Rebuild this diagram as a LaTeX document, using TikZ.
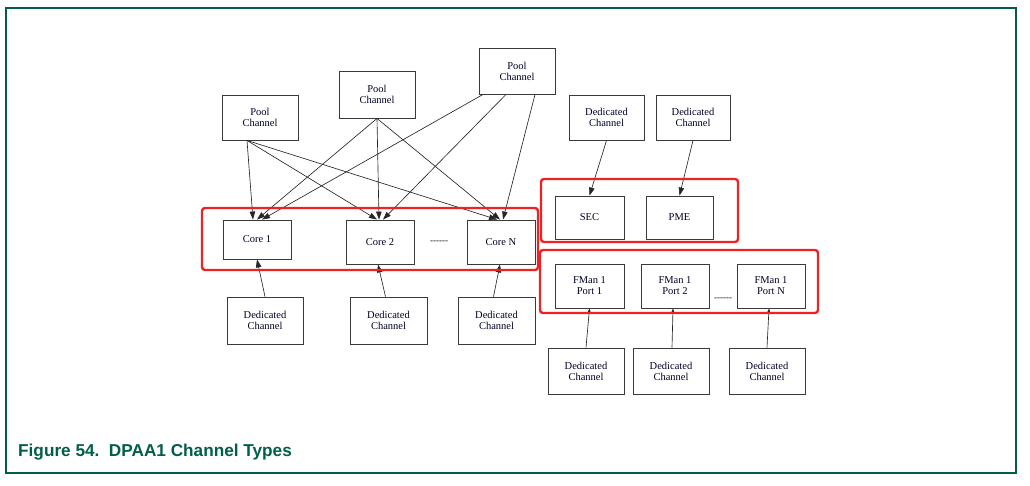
\documentclass[tikz,border=0pt]{standalone}
\usepackage{fontspec}
\setmainfont{Liberation Serif}
\newfontfamily\capfont{Liberation Sans}
\usetikzlibrary{arrows.meta,calc}
\definecolor{nxpgreen}{HTML}{005E4A}
\definecolor{hlred}{HTML}{EE2222}
\definecolor{boxgray}{HTML}{3A3A3A}
\newcommand{\hdash}{{-}{-}{-}{-}{-}{-}}
\begin{document}
\begin{tikzpicture}[x=1pt,y=-1pt,
  blk/.style={draw=boxgray,line width=0.9pt,minimum width=#1,inner sep=0pt,
    font=\fontsize{10.5}{11}\selectfont,align=center,text=black!85!blue},
  blk/.default=76pt,
  arr/.style={draw=black!85,line width=0.65pt,-{Triangle[length=8pt,width=5.5pt]}},
  sarr/.style={draw=black!85,line width=0.65pt,-{Triangle[length=4pt,width=3pt]}},
  hl/.style={draw=hlred,line width=2.4pt,rounded corners=3pt},
  dots/.style={font=\fontsize{9}{9}\selectfont,inner sep=0pt}]
\useasboundingbox (0,0) rectangle (1030,485);
\draw[nxpgreen,line width=2pt] (6,8) rectangle (1016,473);
\node[anchor=base west,inner sep=0pt,text=nxpgreen,font=\capfont\bfseries\fontsize{17.2}{19}\selectfont] (cap) at (18,456) {Figure 54.\ \ DPAA1 Channel Types};
% pool channels
\node[blk,minimum height=45pt] (pool1) at (260,117.5) {Pool\\Channel};
\node[blk,minimum height=47pt] (pool2) at (377,94.5) {Pool\\Channel};
\node[blk,minimum height=46pt] (pool3) at (517,71) {Pool\\Channel};
% cores
\node[blk=68pt,minimum height=39pt] (core1) at (257,239.5) {Core 1};
\node[blk=68pt,minimum height=44pt] (core2) at (380,242) {Core 2};
\node[blk=68pt,minimum height=44pt] (coreN) at (501,242) {Core N};
\node[dots] (cdots) at (439,242) {\hdash};
% dedicated below cores
\node[blk,minimum height=47pt] (dc1) at (265,320.5) {Dedicated\\Channel};
\node[blk=77pt,minimum height=47pt] (dc2) at (388.5,320.5) {Dedicated\\Channel};
\node[blk=77pt,minimum height=47pt] (dc3) at (496.5,320.5) {Dedicated\\Channel};
% SEC / PME
\node[blk=75pt,minimum height=45pt] (dsec) at (606.5,117.5) {Dedicated\\Channel};
\node[blk=74pt,minimum height=45pt] (dpme) at (693,117.5) {Dedicated\\Channel};
\node[blk=69pt,minimum height=43pt] (sec) at (589.5,217.5) {SEC};
\node[blk=67pt,minimum height=43pt] (pme) at (679.5,217.5) {PME};
% FMan ports
\node[blk=69pt,minimum height=44pt] (fp1) at (589.5,286) {FMan 1\\Port 1};
\node[blk=68pt,minimum height=44pt] (fp2) at (675,286) {FMan 1\\Port 2};
\node[blk=68pt,minimum height=44pt] (fpN) at (771,286) {FMan 1\\Port N};
\node[dots] (fdots) at (723,299) {\hdash};
\node[blk,minimum height=46pt] (df1) at (586,371) {Dedicated\\Channel};
\node[blk,minimum height=46pt] (df2) at (671,371) {Dedicated\\Channel};
\node[blk,minimum height=46pt] (df3) at (767,371) {Dedicated\\Channel};
% pool arrows
\draw[arr] ([xshift=-13pt]pool1.south) -- ([xshift=-4pt]core1.north);
\draw[arr] ([xshift=-13pt]pool1.south) -- ([xshift=-3pt]core2.north);
\draw[arr] ([xshift=-13pt]pool1.south) -- ([xshift=-4pt]coreN.north);
\draw[arr] (pool2.south) -- ([xshift=0pt]core1.north);
\draw[arr] (pool2.south) -- ([xshift=-1pt]core2.north);
\draw[arr] (pool2.south) -- ([xshift=-1pt]coreN.north);
\draw[arr] ([xshift=-34pt]pool3.south) -- ([xshift=5pt]core1.north);
\draw[arr] ([xshift=-11pt]pool3.south) -- ([xshift=3pt]core2.north);
\draw[arr] ([xshift=18pt]pool3.south) -- ([xshift=2pt]coreN.north);
% dedicated to cores
\draw[arr] (dc1.north) -- (core1.south);
\draw[arr] ([xshift=-3pt]dc2.north) -- ([xshift=-2pt]core2.south);
\draw[arr] ([xshift=-3pt]dc3.north) -- ([xshift=-1pt]coreN.south);
% SEC / PME
\draw[arr] (dsec.south) -- (sec.north);
\draw[arr] (dpme.south) -- (pme.north);
% FMan
\draw[sarr] (df1.north) -- (fp1.south);
\draw[sarr] ([xshift=1pt]df2.north) -- ([xshift=-2pt]fp2.south);
\draw[sarr] (df3.north) -- ([xshift=-2pt]fpN.south);
% highlight frames
\draw[hl] (202,208) rectangle (538,270);
\draw[hl] (541,179) rectangle (738,242);
\draw[hl] (540,250) rectangle (818,313);
\end{tikzpicture}
\end{document}
